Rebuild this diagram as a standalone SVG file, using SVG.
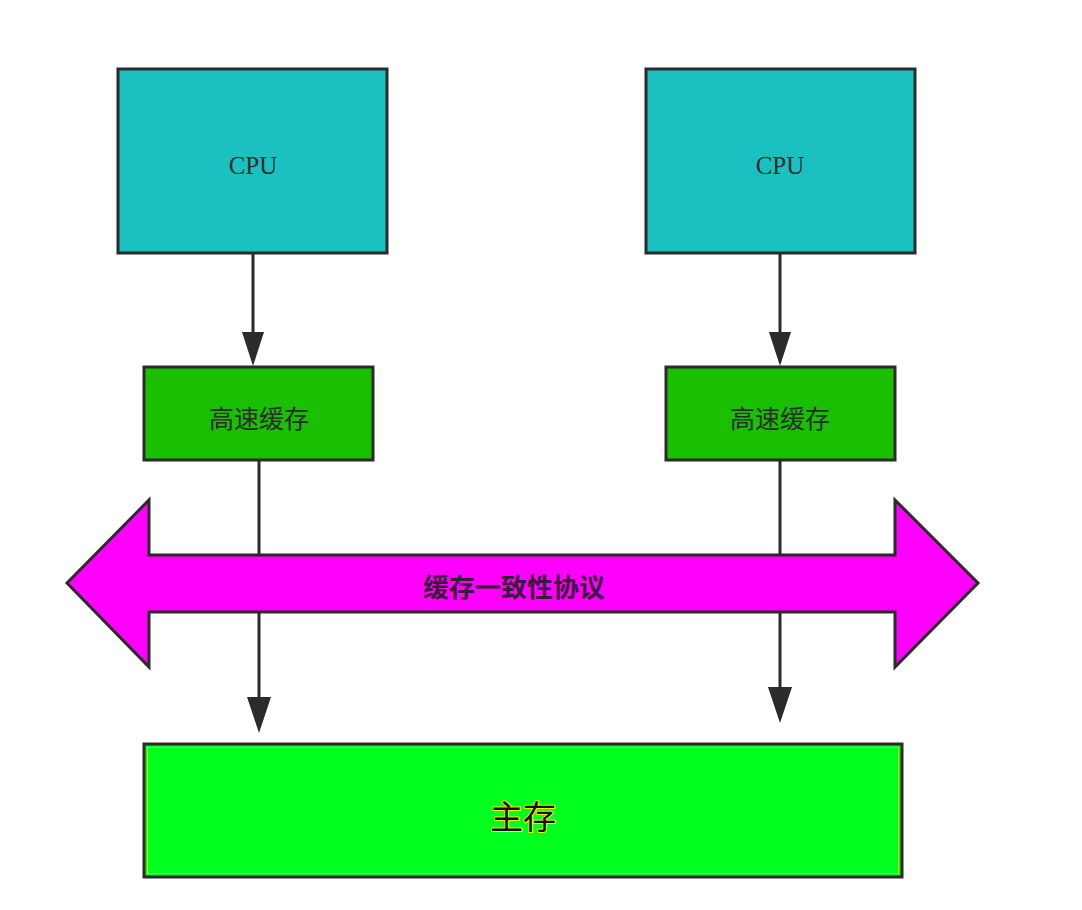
<svg xmlns="http://www.w3.org/2000/svg" width="1082" height="910" viewBox="0 0 1082 910">
<style>
.box{stroke:#2b2b2b;stroke-width:3}
.cpu{fill:#1bc1c1}
.cache{fill:#18c000}
.lbl{font-family:"Liberation Serif",serif;font-size:25px;fill:#2b2b2b;text-anchor:middle;dominant-baseline:central}
.cjk{font-family:"Noto Sans CJK SC","Noto Sans",sans-serif;font-size:25px;fill:#2b2b2b;text-anchor:middle;dominant-baseline:central}
.line{stroke:#2b2b2b;stroke-width:3;fill:none}
.head{fill:#2b2b2b}
</style>
<rect width="1082" height="910" fill="#fff"/>
<g id="connectors">
<line class="line" x1="253" y1="253" x2="253" y2="340"/>
<polygon class="head" points="242,332 264,332 253,366"/>
<line class="line" x1="780" y1="253" x2="780" y2="340"/>
<polygon class="head" points="769,332 791,332 780,366"/>
<line class="line" x1="259" y1="460" x2="259" y2="705"/>
<polygon class="head" points="247,697 271,697 259,733"/>
<line class="line" x1="780" y1="460" x2="780" y2="695"/>
<polygon class="head" points="768,687 792,687 780,723"/>
</g>
<g id="cpu1"><rect class="box cpu" x="118" y="69" width="269" height="184"/><text class="lbl" x="253" y="165">CPU</text></g>
<g id="cpu2"><rect class="box cpu" x="646" y="69" width="269" height="184"/><text class="lbl" x="780" y="165">CPU</text></g>
<g id="cache1"><rect class="box cache" x="144" y="367" width="229" height="93"/><text class="cjk" x="259" y="417">高速缓存</text></g>
<g id="cache2"><rect class="box cache" x="666" y="367" width="229" height="93"/><text class="cjk" x="780" y="417">高速缓存</text></g>
<g id="protocol">
<polygon points="67,583 149,500 149,555 895,555 895,500 978,583 895,667 895,612 149,612 149,667" fill="#ff00ff" stroke="#2b2b2b" stroke-width="3" stroke-linejoin="miter"/>
<text class="cjk" x="514" y="585" font-weight="bold" style="font-size:26px;fill:#3a1a3a">缓存一致性协议</text>
</g>
<g id="memory">
<rect x="144" y="744" width="758" height="133" fill="#00ff1e" stroke="#2b2b2b" stroke-width="3"/>
<rect x="147.5" y="747.5" width="751" height="126" fill="none" stroke="#e8e800" stroke-width="1"/>
<text class="cjk" x="523" y="815" style="font-size:33px;fill:#111;stroke:#f0f000;stroke-width:2;paint-order:stroke">主存</text>
</g>
</svg>
